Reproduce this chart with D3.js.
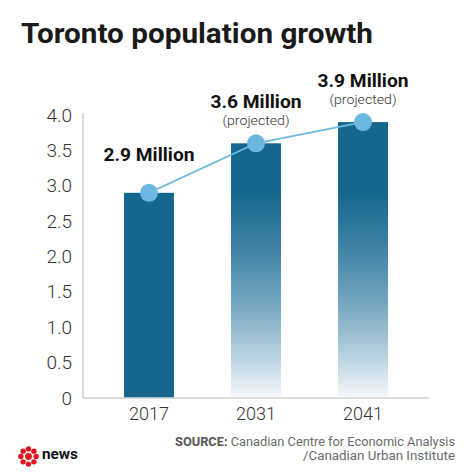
<!DOCTYPE html>
<html>
<head>
<meta charset="utf-8">
<script src="https://cdn.jsdelivr.net/npm/d3@7"></script>
<style>
html,body{margin:0;padding:0;background:#fff;}
svg{display:block;}
text{font-family:Roboto,"Noto Sans",sans-serif;}
</style>
</head>
<body>
<svg id="chart" width="474" height="474"></svg>
<script>
const years = ["2017", "2031", "2041"];
const population = [2.9, 3.6, 3.9];
const projected = [false, true, true];
const valueLabels = ["2.9 Million", "3.6 Million", "3.9 Million"];
const subLabels = ["", "(projected)", "(projected)"];
const yTickValues = [0, 0.5, 1.0, 1.5, 2.0, 2.5, 3.0, 3.5, 4.0];
const yTickLabels = ["0", "0.5", "1.0", "1.5", "2.0", "2.5", "3.0", "3.5", "4.0"];
const titleText = "Toronto population growth";
const sourceLines = ["Canadian Centre for Economic Analysis", "/Canadian Urban Institute"];

const svg = d3.select("#chart");
const W = 474, H = 474;
svg.append("rect").attr("width", W).attr("height", H).attr("fill", "#fff");

const x = d3.scaleBand().domain(years).range([83, 429]).paddingInner(0.533).paddingOuter(0.383);
const y = d3.scaleLinear().domain([0, 4]).range([398, 115]);

const data = years.map((yr, i) => ({year: yr, value: population[i], projected: projected[i], label: valueLabels[i], sub: subLabels[i]}));

// gradient
const defs = svg.append("defs");
const grad = defs.append("linearGradient").attr("id", "fade")
  .attr("gradientUnits", "userSpaceOnUse")
  .attr("x1", 0).attr("x2", 0).attr("y1", y(4)).attr("y2", y(0));
[[0, "#16678e"], [0.27, "#16678e"], [0.45, "#3a7fa2"], [0.68, "#78a9c3"], [0.88, "#c4d9e5"], [1, "#f6f9fb"]]
  .forEach(([o, c]) => grad.append("stop").attr("offset", o).attr("stop-color", c));

// title
svg.append("text").attr("x", 21).attr("y", 43)
  .attr("font-size", 28).attr("font-weight", 700).attr("fill", "#1a1a1a")
  .attr("textLength", 352).attr("lengthAdjust", "spacingAndGlyphs")
  .text(titleText);

// axes
const yAxis = d3.axisLeft(y).tickValues(yTickValues).tickFormat((d, i) => yTickLabels[i]).tickSize(0).tickPadding(11);
const gy = svg.append("g").attr("transform", "translate(83,0)").call(yAxis);
gy.select(".domain").attr("stroke", "#cfcfcf").attr("stroke-width", 1.5).attr("d", `M0,${y(4) - 2}V${y(0)}`);
gy.selectAll(".tick text").attr("font-size", 19).attr("font-weight", 300).attr("fill", "#333")
  .attr("font-family", "Roboto, sans-serif");

const xAxis = d3.axisBottom(x).tickSize(0).tickPadding(9);
const gx = svg.append("g").attr("transform", `translate(0,${y(0)})`).call(xAxis);
gx.select(".domain").attr("stroke", "#cfcfcf").attr("stroke-width", 1.5).attr("d", `M83,0H429`);
gx.selectAll(".tick text").attr("font-size", 18).attr("font-weight", 300).attr("fill", "#333")
  .attr("font-family", "Roboto, sans-serif");

// bars
svg.append("g").selectAll("rect").data(data).join("rect")
  .attr("x", d => x(d.year)).attr("width", x.bandwidth())
  .attr("y", d => y(d.value)).attr("height", d => y(0) - y(d.value) - 0.75)
  .attr("fill", d => d.projected ? "url(#fade)" : "#16678e");

// line
const cx = d => x(d.year) + x.bandwidth() / 2;
svg.append("path").datum(data)
  .attr("d", d3.line().x(cx).y(d => y(d.value)))
  .attr("fill", "none").attr("stroke", "#6cb8e0").attr("stroke-width", 1.8);

svg.append("g").selectAll("circle").data(data).join("circle")
  .attr("cx", cx).attr("cy", d => y(d.value)).attr("r", 9)
  .attr("fill", "#6cb8e0");

// value labels
svg.append("g").selectAll("text").data(data).join("text")
  .attr("x", cx).attr("y", d => y(d.value) - (d.sub ? 35 : 32))
  .attr("text-anchor", "middle").attr("font-size", 18).attr("font-weight", 700).attr("fill", "#111")
  .attr("textLength", 91).attr("lengthAdjust", "spacingAndGlyphs")
  .text(d => d.label);

svg.append("g").selectAll("text").data(data.filter(d => d.sub)).join("text")
  .attr("x", cx).attr("y", d => y(d.value) - 18)
  .attr("text-anchor", "middle").attr("font-size", 12).attr("font-weight", 300).attr("fill", "#333")
  .attr("textLength", 67).attr("lengthAdjust", "spacingAndGlyphs")
  .text(d => d.sub);

// source
const s1 = svg.append("text").attr("x", 455).attr("y", 446).attr("text-anchor", "end")
  .attr("font-size", 12.5).attr("fill", "#6a6a6a")
  .attr("textLength", 280).attr("lengthAdjust", "spacingAndGlyphs");
s1.append("tspan").attr("font-weight", 700).attr("fill", "#555").text("SOURCE:");
s1.append("tspan").text(" " + sourceLines[0]);
svg.append("text").attr("x", 455).attr("y", 460).attr("text-anchor", "end")
  .attr("font-size", 12.5).attr("fill", "#6a6a6a")
  .attr("textLength", 152).attr("lengthAdjust", "spacingAndGlyphs")
  .text(sourceLines[1]);

// CBC logo
const logo = svg.append("g").attr("transform", "translate(28.5,456.5)");
logo.append("circle").attr("r", 3.4).attr("fill", "#e0141e");
d3.range(8).forEach(k => {
  const a = k * Math.PI / 4;
  logo.append("circle").attr("cx", 7.6 * Math.cos(a)).attr("cy", 7.6 * Math.sin(a))
    .attr("r", 2.7).attr("fill", "#e0141e");
});
svg.append("text").attr("x", 42).attr("y", 459).attr("font-family", "'DejaVu Serif', serif")
  .attr("font-weight", 700).attr("font-size", 14).attr("fill", "#111")
  .attr("textLength", 36).attr("lengthAdjust", "spacingAndGlyphs").text("news");
</script>
</body>
</html>
